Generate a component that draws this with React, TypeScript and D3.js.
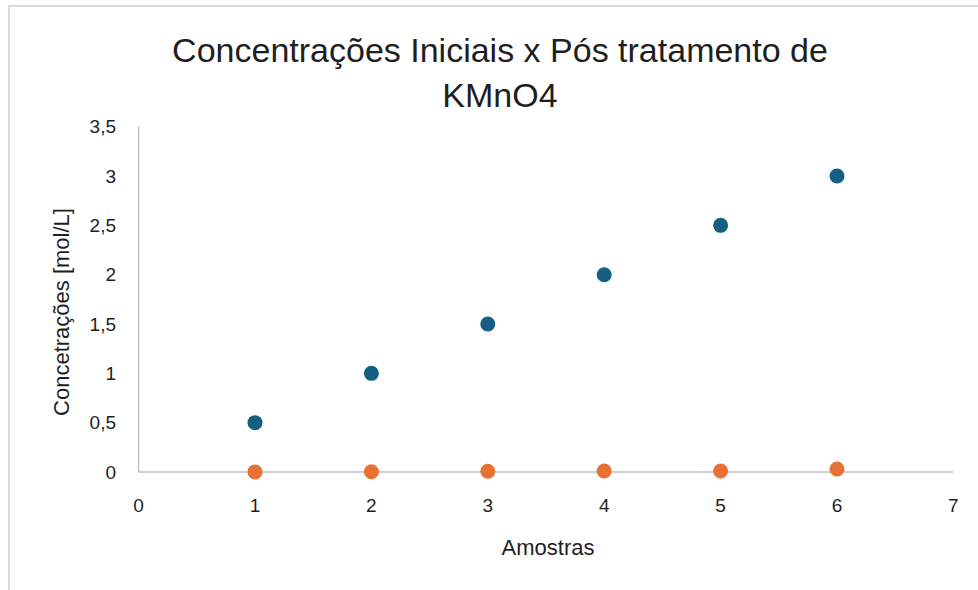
import React from "react";
import * as d3 from "d3";

const samples = [1, 2, 3, 4, 5, 6];
const initialConc = [0.5, 1, 1.5, 2, 2.5, 3];
const afterConc = [0.001, 0.002, 0.008, 0.01, 0.01, 0.03];
const xTicks = [0, 1, 2, 3, 4, 5, 6, 7];
const yTicks = [0, 0.5, 1, 1.5, 2, 2.5, 3, 3.5];
const titleLines = ["Concentrações Iniciais x Pós tratamento de", "KMnO4"];
const xTitle = "Amostras";
const yTitle = "Concetrações [mol/L]";

const W = 978;
const H = 590;
const font = "'Liberation Sans', Arial, sans-serif";

export default function App() {
  const x = d3.scaleLinear().domain([0, 7]).range([138.6, 953.4]);
  const y = d3.scaleLinear().domain([0, 3.5]).range([472, 126.7]);
  const fmt = (v: number) => String(v).replace(".", ",");
  const textColor = "#1f1f1f";

  return (
    <svg
      width={W}
      height={H}
      style={{ position: "absolute", left: 0, top: 0, background: "#fff" }}
    >
      <rect x={9} y={6} width={W + 20} height={H + 20} fill="#fff" stroke="#d9d9d9" strokeWidth={2} />
      {titleLines.map((t, i) => (
        <text
          key={i}
          x={500}
          y={62 + i * 45}
          textAnchor="middle"
          fontFamily={font}
          fontSize={34}
          fill={textColor}
        >
          {t}
        </text>
      ))}
      <line x1={x(0)} x2={x(0)} y1={y(3.5)} y2={y(0)} stroke="#bfbfbf" strokeWidth={1.5} />
      <line x1={x(0)} x2={x(7)} y1={y(0)} y2={y(0)} stroke="#bfbfbf" strokeWidth={1.5} />
      {yTicks.map((v) => (
        <text
          key={"y" + v}
          x={116}
          y={y(v)}
          dy="0.35em"
          textAnchor="end"
          fontFamily={font}
          fontSize={19}
          fill={textColor}
        >
          {fmt(v)}
        </text>
      ))}
      {xTicks.map((v) => (
        <text
          key={"x" + v}
          x={x(v)}
          y={505}
          dy="0.35em"
          textAnchor="middle"
          fontFamily={font}
          fontSize={19}
          fill={textColor}
        >
          {fmt(v)}
        </text>
      ))}
      <text
        x={548}
        y={547}
        dy="0.35em"
        textAnchor="middle"
        fontFamily={font}
        fontSize={22}
        fill={textColor}
      >
        {xTitle}
      </text>
      <text
        transform={`translate(61,312) rotate(-90)`}
        dy="0.35em"
        textAnchor="middle"
        fontFamily={font}
        fontSize={22}
        fill={textColor}
      >
        {yTitle}
      </text>
      {samples.map((s, i) => (
        <circle key={"a" + i} cx={x(s)} cy={y(initialConc[i])} r={7.5} fill="#156082" />
      ))}
      {samples.map((s, i) => (
        <circle key={"b" + i} cx={x(s)} cy={y(afterConc[i])} r={7.5} fill="#E97132" />
      ))}
    </svg>
  );
}
